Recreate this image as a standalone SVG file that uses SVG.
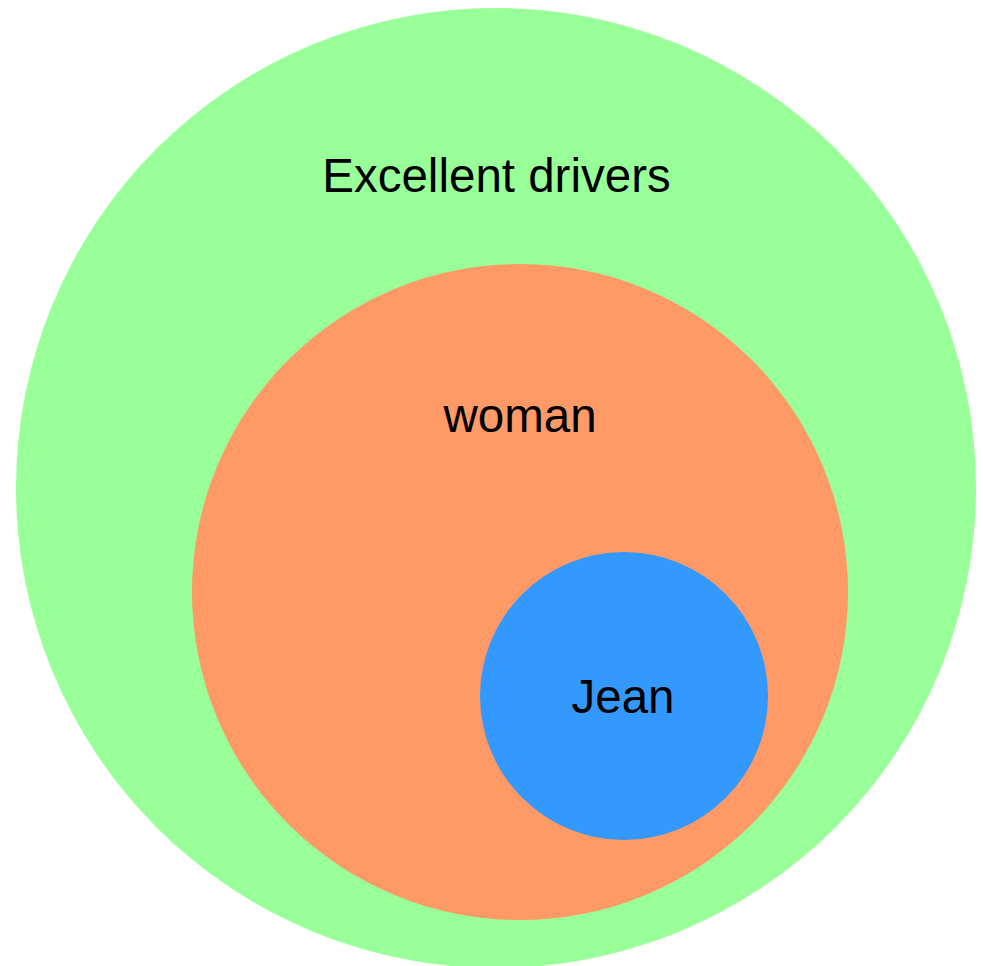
<svg xmlns="http://www.w3.org/2000/svg" width="983" height="966" viewBox="0 0 983 966">
<style>
text{font-family:"Liberation Sans",Arial,sans-serif;font-size:47.5px;fill:#000;text-anchor:middle}
</style>
<rect width="983" height="966" fill="#fff"/>
<g id="excellent-drivers">
<circle cx="496" cy="488" r="480" fill="#99FF99"/>
<text x="496.5" y="192">Excellent drivers</text>
</g>
<g id="woman">
<circle cx="520" cy="592" r="328" fill="#FF9966"/>
<text x="520" y="432">woman</text>
</g>
<g id="jean">
<circle cx="624" cy="696" r="144" fill="#3399FF"/>
<text x="623" y="713">Jean</text>
</g>
<g id="connectors"/>
</svg>
